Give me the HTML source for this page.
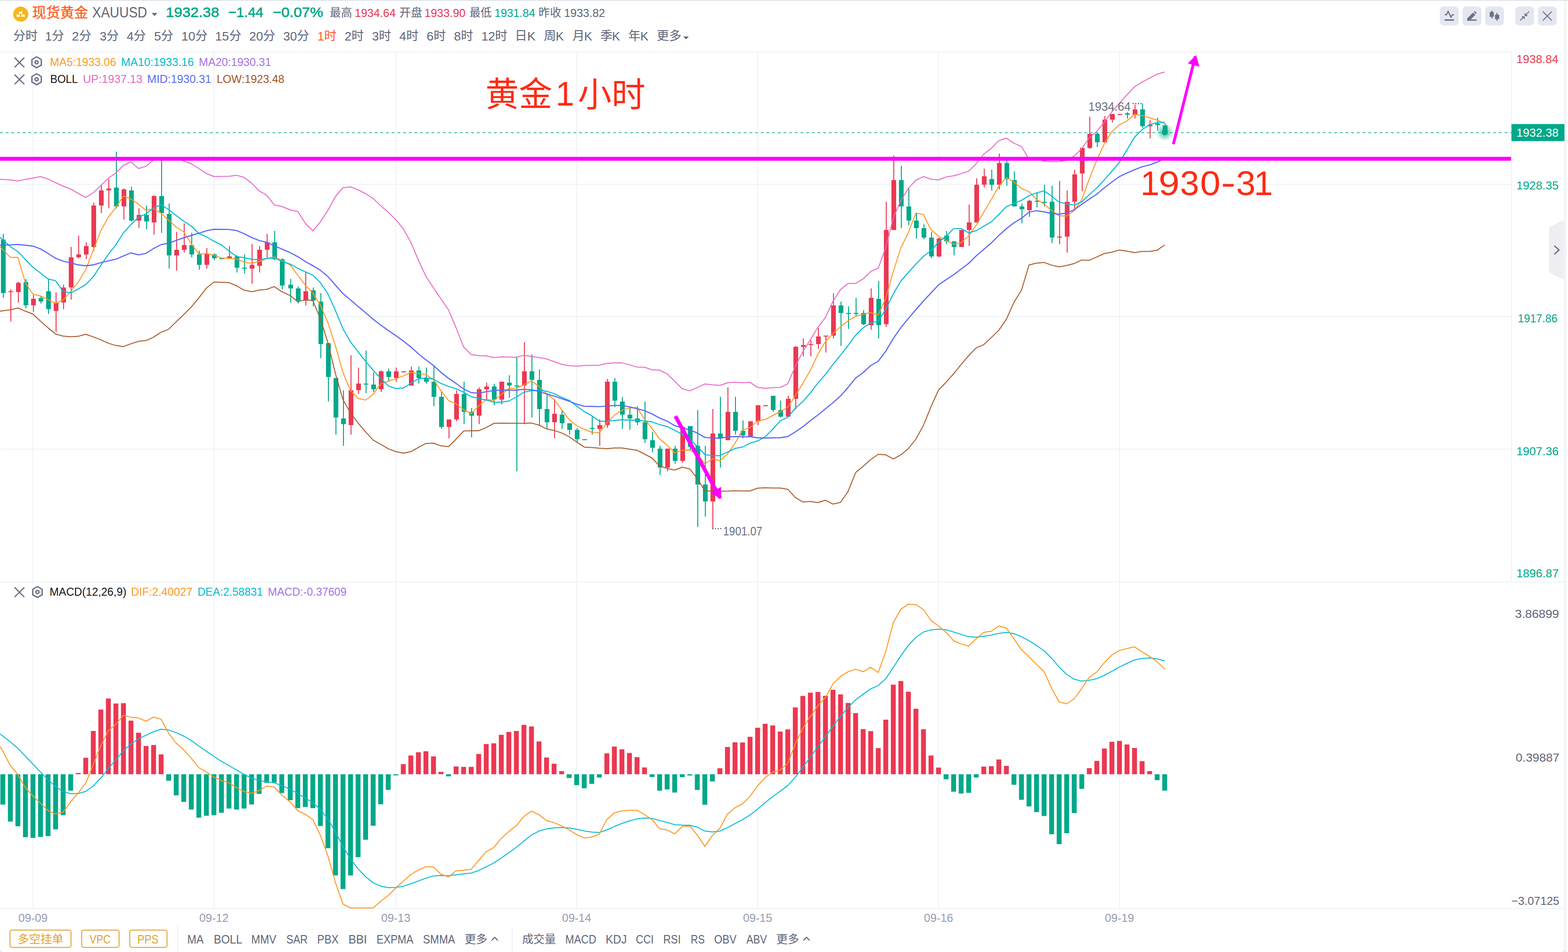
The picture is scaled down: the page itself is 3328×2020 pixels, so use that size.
<!DOCTYPE html>
<html lang="zh"><head><meta charset="utf-8"><title>XAUUSD 1H</title>
<style>html,body{margin:0;padding:0;background:#fff;overflow:hidden}svg{display:block;width:100vw;height:auto}text{font-family:"Liberation Sans","Noto Sans CJK SC",sans-serif;white-space:pre}</style></head>
<body>
<svg width="3328" height="2020" viewBox="0 0 3328 2020" role="img">
<desc>XAUUSD 1H candlestick chart with MA, BOLL and MACD</desc>
<rect x="0" y="0" width="3328" height="2020" fill="#fff"/>
<rect x="0" y="0" width="3328" height="2" fill="#e3e5ee"/>
<rect x="3320" y="2" width="4" height="2018" fill="#eff2f7"/>
<rect x="2" y="390.0" width="3206.0" height="2" fill="#eff3f6"/>
<rect x="2" y="671.0" width="3206.0" height="2" fill="#eff3f6"/>
<rect x="2" y="952.0" width="3206.0" height="2" fill="#eff3f6"/>
<rect x="2" y="109.0" width="3207.0" height="2" fill="#eff3f6"/>
<rect x="0" y="1234.0" width="3320.5" height="2" fill="#eff3f6"/>
<rect x="0" y="1927.0" width="3320.5" height="2" fill="#eff3f6"/>
<rect x="3207.0" y="108.0" width="2" height="1127.0" fill="#eff3f6"/>
<rect x="69.0" y="110.0" width="2" height="1818.0" fill="#eff3f6"/>
<rect x="453.0" y="110.0" width="2" height="1818.0" fill="#eff3f6"/>
<rect x="839.0" y="110.0" width="2" height="1818.0" fill="#eff3f6"/>
<rect x="1223.0" y="110.0" width="2" height="1818.0" fill="#eff3f6"/>
<rect x="1607.0" y="110.0" width="2" height="1818.0" fill="#eff3f6"/>
<rect x="1991.0" y="110.0" width="2" height="1818.0" fill="#eff3f6"/>
<rect x="2375.0" y="110.0" width="2" height="1818.0" fill="#eff3f6"/>
<defs><clipPath id="cm"><rect x="0" y="110" width="3208" height="1125.0"/></clipPath><clipPath id="cd"><rect x="0" y="1235.0" width="3208" height="694.0"/></clipPath>
<radialGradient id="glow"><stop offset="0" stop-color="#00a889" stop-opacity="1"/><stop offset="0.31" stop-color="#00a889" stop-opacity="1"/><stop offset="0.37" stop-color="#00a889" stop-opacity="0.5"/><stop offset="1" stop-color="#00a889" stop-opacity="0"/></radialGradient>
</defs>
<line x1="0" y1="281.5" x2="3208" y2="281.5" stroke="#00a889" stroke-width="1.3" stroke-dasharray="6 6.05"/>
<g clip-path="url(#cm)">
<rect x="6.0" y="496.2" width="2" height="135.8" fill="#00a889"/>
<rect x="2.0" y="508.4" width="10" height="113.4" fill="#00a889"/>
<rect x="22.0" y="614.0" width="2" height="68.1" fill="#eb3852"/>
<rect x="18.0" y="617.9" width="10" height="2.0" fill="#eb3852"/>
<rect x="38.0" y="597.8" width="2" height="44.2" fill="#eb3852"/>
<rect x="34.0" y="600.2" width="10" height="19.5" fill="#eb3852"/>
<rect x="54.0" y="591.9" width="2" height="62.2" fill="#00a889"/>
<rect x="50.0" y="598.4" width="10" height="49.4" fill="#00a889"/>
<rect x="70.0" y="626.2" width="2" height="35.6" fill="#eb3852"/>
<rect x="66.0" y="634.0" width="10" height="13.8" fill="#eb3852"/>
<rect x="86.0" y="628.3" width="2" height="15.6" fill="#00a889"/>
<rect x="82.0" y="632.2" width="10" height="7.5" fill="#00a889"/>
<rect x="102.0" y="591.9" width="2" height="74.1" fill="#00a889"/>
<rect x="98.0" y="617.9" width="10" height="38.0" fill="#00a889"/>
<rect x="118.0" y="620.0" width="2" height="84.3" fill="#eb3852"/>
<rect x="114.0" y="641.8" width="10" height="17.9" fill="#eb3852"/>
<rect x="134.0" y="604.1" width="2" height="52.0" fill="#eb3852"/>
<rect x="130.0" y="610.1" width="10" height="31.7" fill="#eb3852"/>
<rect x="150.0" y="524.0" width="2" height="111.8" fill="#eb3852"/>
<rect x="146.0" y="546.1" width="10" height="63.7" fill="#eb3852"/>
<rect x="166.0" y="500.1" width="2" height="48.1" fill="#eb3852"/>
<rect x="162.0" y="539.8" width="10" height="6.2" fill="#eb3852"/>
<rect x="182.0" y="514.1" width="2" height="35.9" fill="#eb3852"/>
<rect x="178.0" y="522.2" width="10" height="17.7" fill="#eb3852"/>
<rect x="198.0" y="430.1" width="2" height="102.0" fill="#eb3852"/>
<rect x="194.0" y="436.1" width="10" height="87.9" fill="#eb3852"/>
<rect x="214.0" y="393.9" width="2" height="58.3" fill="#eb3852"/>
<rect x="210.0" y="404.1" width="10" height="32.0" fill="#eb3852"/>
<rect x="230.0" y="379.9" width="2" height="62.2" fill="#eb3852"/>
<rect x="226.0" y="399.9" width="10" height="3.9" fill="#eb3852"/>
<rect x="246.0" y="321.9" width="2" height="120.2" fill="#00a889"/>
<rect x="242.0" y="398.1" width="10" height="40.1" fill="#00a889"/>
<rect x="262.0" y="399.9" width="2" height="66.1" fill="#eb3852"/>
<rect x="258.0" y="402.0" width="10" height="35.9" fill="#eb3852"/>
<rect x="278.0" y="396.0" width="2" height="74.1" fill="#00a889"/>
<rect x="274.0" y="404.1" width="10" height="64.0" fill="#00a889"/>
<rect x="294.0" y="442.1" width="2" height="41.9" fill="#eb3852"/>
<rect x="290.0" y="456.1" width="10" height="12.0" fill="#eb3852"/>
<rect x="310.0" y="436.1" width="2" height="49.9" fill="#00a889"/>
<rect x="306.0" y="456.1" width="10" height="13.8" fill="#00a889"/>
<rect x="326.0" y="414.0" width="2" height="84.0" fill="#eb3852"/>
<rect x="322.0" y="416.0" width="10" height="55.9" fill="#eb3852"/>
<rect x="342.0" y="336.2" width="2" height="157.9" fill="#00a889"/>
<rect x="338.0" y="416.0" width="10" height="36.2" fill="#00a889"/>
<rect x="358.0" y="431.9" width="2" height="138.1" fill="#00a889"/>
<rect x="354.0" y="454.0" width="10" height="87.9" fill="#00a889"/>
<rect x="374.0" y="492.0" width="2" height="82.2" fill="#eb3852"/>
<rect x="370.0" y="530.0" width="10" height="12.0" fill="#eb3852"/>
<rect x="390.0" y="474.0" width="2" height="61.9" fill="#eb3852"/>
<rect x="386.0" y="520.1" width="10" height="9.9" fill="#eb3852"/>
<rect x="406.0" y="494.1" width="2" height="52.0" fill="#00a889"/>
<rect x="402.0" y="520.1" width="10" height="19.8" fill="#00a889"/>
<rect x="422.0" y="532.0" width="2" height="40.1" fill="#00a889"/>
<rect x="418.0" y="539.8" width="10" height="22.1" fill="#00a889"/>
<rect x="438.0" y="526.1" width="2" height="44.0" fill="#eb3852"/>
<rect x="434.0" y="538.0" width="10" height="23.9" fill="#eb3852"/>
<rect x="454.0" y="538.0" width="2" height="14.0" fill="#00a889"/>
<rect x="450.0" y="539.8" width="10" height="8.1" fill="#00a889"/>
<rect x="470.0" y="547.9" width="2" height="1.6" fill="#00a889"/>
<rect x="466.0" y="547.9" width="10" height="2.0" fill="#00a889"/>
<rect x="486.0" y="522.2" width="2" height="26.5" fill="#eb3852"/>
<rect x="482.0" y="544.0" width="10" height="4.7" fill="#eb3852"/>
<rect x="502.0" y="541.9" width="2" height="36.2" fill="#00a889"/>
<rect x="498.0" y="544.0" width="10" height="23.9" fill="#00a889"/>
<rect x="518.0" y="539.8" width="2" height="40.3" fill="#00a889"/>
<rect x="514.0" y="567.9" width="10" height="2.1" fill="#00a889"/>
<rect x="534.0" y="518.0" width="2" height="84.0" fill="#eb3852"/>
<rect x="530.0" y="562.0" width="10" height="8.1" fill="#eb3852"/>
<rect x="550.0" y="522.2" width="2" height="55.9" fill="#eb3852"/>
<rect x="546.0" y="530.0" width="10" height="34.1" fill="#eb3852"/>
<rect x="566.0" y="496.2" width="2" height="52.0" fill="#eb3852"/>
<rect x="562.0" y="514.1" width="10" height="15.9" fill="#eb3852"/>
<rect x="582.0" y="489.9" width="2" height="62.2" fill="#00a889"/>
<rect x="578.0" y="514.1" width="10" height="35.9" fill="#00a889"/>
<rect x="598.0" y="547.9" width="2" height="66.1" fill="#00a889"/>
<rect x="594.0" y="550.0" width="10" height="55.9" fill="#00a889"/>
<rect x="616.0" y="591.9" width="2" height="50.2" fill="#00a889"/>
<rect x="612.0" y="604.1" width="10" height="7.8" fill="#00a889"/>
<rect x="632.0" y="608.0" width="2" height="35.9" fill="#00a889"/>
<rect x="628.0" y="611.9" width="10" height="26.0" fill="#00a889"/>
<rect x="648.0" y="576.2" width="2" height="71.8" fill="#eb3852"/>
<rect x="644.0" y="618.1" width="10" height="19.8" fill="#eb3852"/>
<rect x="664.0" y="610.0" width="2" height="40.1" fill="#00a889"/>
<rect x="660.0" y="616.0" width="10" height="21.8" fill="#00a889"/>
<rect x="680.0" y="622.0" width="2" height="138.1" fill="#00a889"/>
<rect x="676.0" y="639.9" width="10" height="90.0" fill="#00a889"/>
<rect x="696.0" y="728.1" width="2" height="123.8" fill="#00a889"/>
<rect x="692.0" y="728.1" width="10" height="71.8" fill="#00a889"/>
<rect x="712.0" y="802.1" width="2" height="119.9" fill="#00a889"/>
<rect x="708.0" y="802.1" width="10" height="83.7" fill="#00a889"/>
<rect x="728.0" y="828.1" width="2" height="117.8" fill="#00a889"/>
<rect x="724.0" y="887.9" width="10" height="12.0" fill="#00a889"/>
<rect x="744.0" y="754.0" width="2" height="168.0" fill="#eb3852"/>
<rect x="740.0" y="828.1" width="10" height="73.9" fill="#eb3852"/>
<rect x="760.0" y="780.0" width="2" height="55.9" fill="#eb3852"/>
<rect x="756.0" y="813.8" width="10" height="14.0" fill="#eb3852"/>
<rect x="776.0" y="744.0" width="2" height="90.0" fill="#00a889"/>
<rect x="772.0" y="813.9" width="10" height="2.1" fill="#00a889"/>
<rect x="792.0" y="790.0" width="2" height="41.9" fill="#00a889"/>
<rect x="788.0" y="816.0" width="10" height="9.9" fill="#00a889"/>
<rect x="808.0" y="786.1" width="2" height="45.8" fill="#eb3852"/>
<rect x="804.0" y="787.9" width="10" height="38.0" fill="#eb3852"/>
<rect x="824.0" y="782.0" width="2" height="26.0" fill="#00a889"/>
<rect x="820.0" y="787.9" width="10" height="12.0" fill="#00a889"/>
<rect x="840.0" y="779.9" width="2" height="30.2" fill="#eb3852"/>
<rect x="836.0" y="787.9" width="10" height="14.0" fill="#eb3852"/>
<rect x="856.0" y="787.9" width="2" height="2.1" fill="#eb3852"/>
<rect x="852.0" y="787.9" width="10" height="2.1" fill="#eb3852"/>
<rect x="872.0" y="778.0" width="2" height="40.1" fill="#eb3852"/>
<rect x="868.0" y="786.1" width="10" height="32.0" fill="#eb3852"/>
<rect x="888.0" y="778.0" width="2" height="35.9" fill="#00a889"/>
<rect x="884.0" y="786.1" width="10" height="15.9" fill="#00a889"/>
<rect x="904.0" y="779.9" width="2" height="34.1" fill="#00a889"/>
<rect x="900.0" y="802.0" width="10" height="8.1" fill="#00a889"/>
<rect x="920.0" y="778.0" width="2" height="84.0" fill="#00a889"/>
<rect x="916.0" y="810.0" width="10" height="32.0" fill="#00a889"/>
<rect x="936.0" y="829.9" width="2" height="80.1" fill="#00a889"/>
<rect x="932.0" y="841.9" width="10" height="64.0" fill="#00a889"/>
<rect x="952.0" y="890.0" width="2" height="40.1" fill="#eb3852"/>
<rect x="948.0" y="890.0" width="10" height="15.9" fill="#eb3852"/>
<rect x="968.0" y="828.1" width="2" height="65.8" fill="#eb3852"/>
<rect x="964.0" y="835.9" width="10" height="54.1" fill="#eb3852"/>
<rect x="984.0" y="809.9" width="2" height="90.0" fill="#00a889"/>
<rect x="980.0" y="835.9" width="10" height="38.0" fill="#00a889"/>
<rect x="1000.0" y="865.8" width="2" height="62.2" fill="#00a889"/>
<rect x="996.0" y="873.9" width="10" height="8.1" fill="#00a889"/>
<rect x="1016.0" y="821.9" width="2" height="78.0" fill="#eb3852"/>
<rect x="1012.0" y="826.0" width="10" height="55.9" fill="#eb3852"/>
<rect x="1032.0" y="812.0" width="2" height="36.9" fill="#eb3852"/>
<rect x="1028.0" y="820.1" width="10" height="6.0" fill="#eb3852"/>
<rect x="1048.0" y="814.1" width="2" height="45.8" fill="#00a889"/>
<rect x="1044.0" y="820.1" width="10" height="27.8" fill="#00a889"/>
<rect x="1064.0" y="809.9" width="2" height="48.1" fill="#eb3852"/>
<rect x="1060.0" y="809.9" width="10" height="38.0" fill="#eb3852"/>
<rect x="1080.0" y="796.1" width="2" height="47.9" fill="#00a889"/>
<rect x="1076.0" y="812.0" width="10" height="6.0" fill="#00a889"/>
<rect x="1096.0" y="757.9" width="2" height="242.1" fill="#00a889"/>
<rect x="1092.0" y="818.0" width="10" height="2.1" fill="#00a889"/>
<rect x="1112.0" y="726.2" width="2" height="173.7" fill="#eb3852"/>
<rect x="1108.0" y="787.8" width="10" height="30.2" fill="#eb3852"/>
<rect x="1128.0" y="752.2" width="2" height="133.7" fill="#00a889"/>
<rect x="1124.0" y="787.8" width="10" height="18.2" fill="#00a889"/>
<rect x="1144.0" y="783.9" width="2" height="118.1" fill="#00a889"/>
<rect x="1140.0" y="806.0" width="10" height="61.9" fill="#00a889"/>
<rect x="1160.0" y="833.8" width="2" height="76.2" fill="#00a889"/>
<rect x="1156.0" y="867.9" width="10" height="28.1" fill="#00a889"/>
<rect x="1176.0" y="846.1" width="2" height="84.0" fill="#eb3852"/>
<rect x="1172.0" y="878.0" width="10" height="17.9" fill="#eb3852"/>
<rect x="1192.0" y="870.0" width="2" height="40.1" fill="#00a889"/>
<rect x="1188.0" y="879.9" width="10" height="18.2" fill="#00a889"/>
<rect x="1208.0" y="898.1" width="2" height="23.9" fill="#00a889"/>
<rect x="1204.0" y="898.1" width="10" height="14.0" fill="#00a889"/>
<rect x="1224.0" y="908.0" width="2" height="29.9" fill="#00a889"/>
<rect x="1220.0" y="912.1" width="10" height="19.8" fill="#00a889"/>
<rect x="1240.0" y="931.9" width="2" height="2.1" fill="#00a889"/>
<rect x="1236.0" y="931.9" width="10" height="2.1" fill="#00a889"/>
<rect x="1256.0" y="884.0" width="2" height="38.0" fill="#00a889"/>
<rect x="1252.0" y="908.0" width="10" height="2.1" fill="#00a889"/>
<rect x="1272.0" y="890.0" width="2" height="55.9" fill="#eb3852"/>
<rect x="1268.0" y="902.0" width="10" height="8.1" fill="#eb3852"/>
<rect x="1288.0" y="803.9" width="2" height="104.0" fill="#eb3852"/>
<rect x="1284.0" y="809.9" width="10" height="92.1" fill="#eb3852"/>
<rect x="1304.0" y="802.1" width="2" height="61.9" fill="#00a889"/>
<rect x="1300.0" y="809.9" width="10" height="40.1" fill="#00a889"/>
<rect x="1320.0" y="841.9" width="2" height="68.1" fill="#00a889"/>
<rect x="1316.0" y="852.0" width="10" height="27.8" fill="#00a889"/>
<rect x="1336.0" y="864.0" width="2" height="48.1" fill="#00a889"/>
<rect x="1332.0" y="879.9" width="10" height="8.1" fill="#00a889"/>
<rect x="1352.0" y="861.9" width="2" height="40.1" fill="#00a889"/>
<rect x="1348.0" y="887.9" width="10" height="8.1" fill="#00a889"/>
<rect x="1368.0" y="852.0" width="2" height="87.9" fill="#00a889"/>
<rect x="1364.0" y="896.0" width="10" height="35.9" fill="#00a889"/>
<rect x="1384.0" y="916.0" width="2" height="44.0" fill="#00a889"/>
<rect x="1380.0" y="934.0" width="10" height="16.1" fill="#00a889"/>
<rect x="1400.0" y="945.9" width="2" height="62.2" fill="#00a889"/>
<rect x="1396.0" y="951.9" width="10" height="40.1" fill="#00a889"/>
<rect x="1416.0" y="951.9" width="2" height="48.1" fill="#eb3852"/>
<rect x="1412.0" y="951.9" width="10" height="40.1" fill="#eb3852"/>
<rect x="1432.0" y="945.9" width="2" height="38.2" fill="#00a889"/>
<rect x="1428.0" y="951.9" width="10" height="26.0" fill="#00a889"/>
<rect x="1448.0" y="905.9" width="2" height="76.2" fill="#eb3852"/>
<rect x="1444.0" y="905.9" width="10" height="72.0" fill="#eb3852"/>
<rect x="1464.0" y="904.1" width="2" height="52.0" fill="#00a889"/>
<rect x="1460.0" y="904.1" width="10" height="44.0" fill="#00a889"/>
<rect x="1480.0" y="870.0" width="2" height="248.1" fill="#00a889"/>
<rect x="1476.0" y="945.9" width="10" height="82.2" fill="#00a889"/>
<rect x="1496.0" y="945.9" width="2" height="150.1" fill="#00a889"/>
<rect x="1492.0" y="1028.1" width="10" height="35.9" fill="#00a889"/>
<rect x="1512.0" y="867.9" width="2" height="254.1" fill="#eb3852"/>
<rect x="1508.0" y="919.9" width="10" height="144.1" fill="#eb3852"/>
<rect x="1528.0" y="841.9" width="2" height="150.1" fill="#00a889"/>
<rect x="1524.0" y="919.9" width="10" height="10.1" fill="#00a889"/>
<rect x="1544.0" y="821.9" width="2" height="112.1" fill="#eb3852"/>
<rect x="1540.0" y="873.9" width="10" height="60.1" fill="#eb3852"/>
<rect x="1560.0" y="841.9" width="2" height="80.1" fill="#00a889"/>
<rect x="1556.0" y="873.9" width="10" height="40.1" fill="#00a889"/>
<rect x="1576.0" y="892.1" width="2" height="38.0" fill="#00a889"/>
<rect x="1572.0" y="913.9" width="10" height="10.1" fill="#00a889"/>
<rect x="1592.0" y="893.9" width="2" height="32.0" fill="#eb3852"/>
<rect x="1588.0" y="893.9" width="10" height="32.0" fill="#eb3852"/>
<rect x="1608.0" y="859.8" width="2" height="42.1" fill="#eb3852"/>
<rect x="1604.0" y="859.8" width="10" height="34.1" fill="#eb3852"/>
<rect x="1624.0" y="859.8" width="2" height="2.1" fill="#eb3852"/>
<rect x="1620.0" y="859.8" width="10" height="2.1" fill="#eb3852"/>
<rect x="1640.0" y="839.8" width="2" height="34.1" fill="#00a889"/>
<rect x="1636.0" y="839.8" width="10" height="30.2" fill="#00a889"/>
<rect x="1656.0" y="850.0" width="2" height="35.9" fill="#00a889"/>
<rect x="1652.0" y="870.0" width="10" height="14.0" fill="#00a889"/>
<rect x="1672.0" y="839.8" width="2" height="44.2" fill="#eb3852"/>
<rect x="1668.0" y="846.1" width="10" height="38.0" fill="#eb3852"/>
<rect x="1688.0" y="733.9" width="2" height="134.2" fill="#eb3852"/>
<rect x="1684.0" y="736.0" width="10" height="110.0" fill="#eb3852"/>
<rect x="1704.0" y="718.1" width="2" height="38.0" fill="#eb3852"/>
<rect x="1700.0" y="732.1" width="10" height="3.9" fill="#eb3852"/>
<rect x="1720.0" y="722.0" width="2" height="34.1" fill="#eb3852"/>
<rect x="1716.0" y="730.0" width="10" height="2.1" fill="#eb3852"/>
<rect x="1736.0" y="696.0" width="2" height="44.0" fill="#eb3852"/>
<rect x="1732.0" y="713.9" width="10" height="16.1" fill="#eb3852"/>
<rect x="1752.0" y="712.1" width="2" height="35.9" fill="#eb3852"/>
<rect x="1748.0" y="712.1" width="10" height="2.0" fill="#eb3852"/>
<rect x="1768.0" y="621.8" width="2" height="96.2" fill="#eb3852"/>
<rect x="1764.0" y="648.1" width="10" height="64.0" fill="#eb3852"/>
<rect x="1784.0" y="640.1" width="2" height="93.9" fill="#00a889"/>
<rect x="1780.0" y="648.1" width="10" height="15.9" fill="#00a889"/>
<rect x="1800.0" y="649.9" width="2" height="48.1" fill="#00a889"/>
<rect x="1796.0" y="664.0" width="10" height="2.1" fill="#00a889"/>
<rect x="1816.0" y="632.0" width="2" height="38.0" fill="#00a889"/>
<rect x="1812.0" y="664.0" width="10" height="2.1" fill="#00a889"/>
<rect x="1832.0" y="658.0" width="2" height="32.0" fill="#00a889"/>
<rect x="1828.0" y="664.0" width="10" height="23.9" fill="#00a889"/>
<rect x="1848.0" y="612.0" width="2" height="87.9" fill="#eb3852"/>
<rect x="1844.0" y="632.0" width="10" height="58.0" fill="#eb3852"/>
<rect x="1864.0" y="596.1" width="2" height="122.0" fill="#00a889"/>
<rect x="1860.0" y="634.1" width="10" height="55.9" fill="#00a889"/>
<rect x="1880.0" y="428.1" width="2" height="265.8" fill="#eb3852"/>
<rect x="1876.0" y="487.9" width="10" height="200.0" fill="#eb3852"/>
<rect x="1896.0" y="330.0" width="2" height="157.9" fill="#eb3852"/>
<rect x="1892.0" y="382.1" width="10" height="105.9" fill="#eb3852"/>
<rect x="1912.0" y="351.9" width="2" height="132.1" fill="#00a889"/>
<rect x="1908.0" y="382.1" width="10" height="55.9" fill="#00a889"/>
<rect x="1928.0" y="400.0" width="2" height="78.0" fill="#00a889"/>
<rect x="1924.0" y="438.0" width="10" height="29.9" fill="#00a889"/>
<rect x="1944.0" y="452.0" width="2" height="54.1" fill="#00a889"/>
<rect x="1940.0" y="467.9" width="10" height="16.1" fill="#00a889"/>
<rect x="1960.0" y="475.9" width="2" height="32.0" fill="#00a889"/>
<rect x="1956.0" y="484.0" width="10" height="20.0" fill="#00a889"/>
<rect x="1976.0" y="492.1" width="2" height="55.9" fill="#00a889"/>
<rect x="1972.0" y="504.0" width="10" height="40.1" fill="#00a889"/>
<rect x="1992.0" y="504.0" width="2" height="41.9" fill="#eb3852"/>
<rect x="1988.0" y="506.1" width="10" height="38.0" fill="#eb3852"/>
<rect x="2008.0" y="490.0" width="2" height="28.1" fill="#00a889"/>
<rect x="2004.0" y="499.9" width="10" height="12.2" fill="#00a889"/>
<rect x="2024.0" y="512.1" width="2" height="29.9" fill="#00a889"/>
<rect x="2020.0" y="512.1" width="10" height="12.0" fill="#00a889"/>
<rect x="2040.0" y="487.9" width="2" height="36.2" fill="#eb3852"/>
<rect x="2036.0" y="487.9" width="10" height="36.2" fill="#eb3852"/>
<rect x="2056.0" y="434.1" width="2" height="87.9" fill="#eb3852"/>
<rect x="2052.0" y="472.0" width="10" height="15.9" fill="#eb3852"/>
<rect x="2072.0" y="378.2" width="2" height="93.9" fill="#eb3852"/>
<rect x="2068.0" y="391.9" width="10" height="80.1" fill="#eb3852"/>
<rect x="2088.0" y="357.9" width="2" height="40.1" fill="#eb3852"/>
<rect x="2084.0" y="374.0" width="10" height="17.9" fill="#eb3852"/>
<rect x="2104.0" y="359.9" width="2" height="44.2" fill="#00a889"/>
<rect x="2100.0" y="380.0" width="10" height="12.0" fill="#00a889"/>
<rect x="2120.0" y="325.9" width="2" height="76.2" fill="#eb3852"/>
<rect x="2116.0" y="345.9" width="10" height="46.0" fill="#eb3852"/>
<rect x="2136.0" y="340.4" width="2" height="53.6" fill="#00a889"/>
<rect x="2132.0" y="345.9" width="10" height="34.1" fill="#00a889"/>
<rect x="2152.0" y="363.8" width="2" height="74.1" fill="#00a889"/>
<rect x="2148.0" y="382.1" width="10" height="55.9" fill="#00a889"/>
<rect x="2168.0" y="432.0" width="2" height="41.9" fill="#00a889"/>
<rect x="2164.0" y="438.0" width="10" height="6.0" fill="#00a889"/>
<rect x="2184.0" y="423.9" width="2" height="36.2" fill="#eb3852"/>
<rect x="2180.0" y="426.0" width="10" height="20.0" fill="#eb3852"/>
<rect x="2200.0" y="408.1" width="2" height="32.0" fill="#00a889"/>
<rect x="2196.0" y="426.0" width="10" height="2.1" fill="#00a889"/>
<rect x="2216.0" y="391.9" width="2" height="46.0" fill="#00a889"/>
<rect x="2212.0" y="428.1" width="10" height="2.1" fill="#00a889"/>
<rect x="2232.0" y="394.0" width="2" height="122.0" fill="#00a889"/>
<rect x="2228.0" y="428.1" width="10" height="75.9" fill="#00a889"/>
<rect x="2248.0" y="383.9" width="2" height="134.2" fill="#eb3852"/>
<rect x="2244.0" y="502.0" width="10" height="2.1" fill="#eb3852"/>
<rect x="2264.0" y="404.2" width="2" height="131.9" fill="#eb3852"/>
<rect x="2260.0" y="428.1" width="10" height="73.9" fill="#eb3852"/>
<rect x="2280.0" y="359.9" width="2" height="84.0" fill="#eb3852"/>
<rect x="2276.0" y="370.1" width="10" height="58.0" fill="#eb3852"/>
<rect x="2296.0" y="312.1" width="2" height="93.9" fill="#eb3852"/>
<rect x="2292.0" y="313.9" width="10" height="54.1" fill="#eb3852"/>
<rect x="2312.0" y="247.9" width="2" height="68.1" fill="#eb3852"/>
<rect x="2308.0" y="284.0" width="10" height="29.9" fill="#eb3852"/>
<rect x="2328.0" y="281.9" width="2" height="30.2" fill="#00a889"/>
<rect x="2324.0" y="284.0" width="10" height="17.9" fill="#00a889"/>
<rect x="2344.0" y="246.0" width="2" height="55.9" fill="#eb3852"/>
<rect x="2340.0" y="253.8" width="10" height="48.1" fill="#eb3852"/>
<rect x="2360.0" y="241.9" width="2" height="17.9" fill="#eb3852"/>
<rect x="2356.0" y="241.9" width="10" height="12.0" fill="#eb3852"/>
<rect x="2376.0" y="241.9" width="2" height="1.6" fill="#eb3852"/>
<rect x="2372.0" y="241.9" width="10" height="2.0" fill="#eb3852"/>
<rect x="2392.0" y="238.0" width="2" height="13.6" fill="#00a889"/>
<rect x="2388.0" y="240.4" width="10" height="3.0" fill="#00a889"/>
<rect x="2408.0" y="222.2" width="2" height="29.4" fill="#eb3852"/>
<rect x="2404.0" y="232.2" width="10" height="11.2" fill="#eb3852"/>
<rect x="2424.0" y="220.0" width="2" height="51.5" fill="#00a889"/>
<rect x="2420.0" y="232.2" width="10" height="35.6" fill="#00a889"/>
<rect x="2440.0" y="254.4" width="2" height="39.3" fill="#eb3852"/>
<rect x="2436.0" y="264.5" width="10" height="3.3" fill="#eb3852"/>
<rect x="2456.0" y="249.7" width="2" height="27.4" fill="#00a889"/>
<rect x="2452.0" y="262.1" width="10" height="3.3" fill="#00a889"/>
<rect x="2472.0" y="262.0" width="2" height="19.5" fill="#00a889"/>
<rect x="2468.0" y="266.1" width="10" height="15.4" fill="#00a889"/>
<path d="M0.0 523.8 L6.0 529.4 L22.0 546.1 L38.0 546.1 L54.0 600.2 L70.0 624.3 L86.0 627.9 L102.0 635.5 L118.0 643.8 L134.0 636.3 L150.0 618.7 L166.0 598.7 L182.0 572.0 L198.0 530.8 L214.0 489.7 L230.0 460.4 L246.0 440.1 L262.0 416.0 L278.0 422.4 L294.0 432.9 L310.0 446.8 L326.0 442.4 L342.0 452.5 L358.0 467.2 L374.0 482.0 L390.0 492.0 L406.0 516.8 L422.0 538.8 L438.0 538.0 L454.0 541.6 L470.0 547.4 L486.0 548.3 L502.0 549.5 L518.0 555.9 L534.0 558.7 L550.0 554.8 L566.0 548.8 L582.0 545.2 L598.0 552.4 L616.0 562.4 L632.0 584.0 L648.0 604.8 L664.0 622.3 L680.0 647.1 L696.0 684.7 L712.0 734.3 L728.0 790.7 L744.0 828.7 L760.0 845.5 L776.0 848.7 L792.0 836.7 L808.0 814.4 L824.0 808.7 L840.0 803.5 L856.0 797.9 L872.0 790.0 L888.0 792.8 L904.0 794.8 L920.0 805.6 L936.0 829.2 L952.0 850.0 L968.0 856.8 L984.0 869.5 L1000.0 877.5 L1016.0 861.6 L1032.0 847.6 L1048.0 850.0 L1064.0 837.2 L1080.0 824.4 L1096.0 823.2 L1112.0 816.7 L1128.0 808.3 L1144.0 819.9 L1160.0 835.6 L1176.0 847.2 L1192.0 869.2 L1208.0 890.4 L1224.0 903.2 L1240.0 910.8 L1256.0 917.2 L1272.0 918.0 L1288.0 897.6 L1304.0 881.2 L1320.0 870.4 L1336.0 865.9 L1352.0 864.7 L1368.0 889.1 L1384.0 909.2 L1400.0 931.6 L1416.0 944.4 L1432.0 960.8 L1448.0 955.6 L1464.0 955.1 L1480.0 962.4 L1496.0 984.8 L1512.0 973.2 L1528.0 978.0 L1544.0 963.2 L1560.0 940.4 L1576.0 912.4 L1592.0 907.2 L1608.0 893.1 L1624.0 890.3 L1640.0 881.5 L1656.0 873.5 L1672.0 864.0 L1688.0 839.2 L1704.0 813.6 L1720.0 785.7 L1736.0 751.6 L1752.0 724.8 L1768.0 707.3 L1784.0 693.6 L1800.0 680.8 L1816.0 671.3 L1832.0 666.4 L1848.0 663.2 L1864.0 668.4 L1880.0 632.8 L1896.0 576.0 L1912.0 526.0 L1928.0 493.2 L1944.0 452.0 L1960.0 455.2 L1976.0 487.6 L1992.0 501.2 L2008.0 510.1 L2024.0 518.1 L2040.0 514.9 L2056.0 500.4 L2072.0 477.6 L2088.0 450.0 L2104.0 423.6 L2120.0 395.2 L2136.0 376.7 L2152.0 386.0 L2168.0 399.9 L2184.0 406.8 L2200.0 423.2 L2216.0 433.2 L2232.0 446.4 L2248.0 458.0 L2264.0 458.5 L2280.0 446.9 L2296.0 423.6 L2312.0 379.6 L2328.0 339.6 L2344.0 304.8 L2360.0 279.1 L2376.0 264.7 L2392.0 256.6 L2408.0 242.6 L2424.0 245.4 L2440.0 250.0 L2456.0 254.7 L2472.0 262.3" fill="none" stroke="#ff961e" stroke-width="2.0" stroke-linejoin="round"/>
<path d="M0.0 503.6 L6.0 508.6 L22.0 523.5 L38.0 533.9 L54.0 550.8 L70.0 567.2 L86.0 579.4 L102.0 591.9 L118.0 595.8 L134.0 618.4 L150.0 621.5 L166.0 613.3 L182.0 603.7 L198.0 587.3 L214.0 563.0 L230.0 539.6 L246.0 519.4 L262.0 494.0 L278.0 476.6 L294.0 461.3 L310.0 453.6 L326.0 441.3 L342.0 434.3 L358.0 444.8 L374.0 457.4 L390.0 469.4 L406.0 479.6 L422.0 495.6 L438.0 502.6 L454.0 511.8 L470.0 519.7 L486.0 532.5 L502.0 544.1 L518.0 546.9 L534.0 550.1 L550.0 551.1 L566.0 548.5 L582.0 547.3 L598.0 554.1 L616.0 560.5 L632.0 569.4 L648.0 576.8 L664.0 583.8 L680.0 599.8 L696.0 623.6 L712.0 659.1 L728.0 697.7 L744.0 725.5 L760.0 746.3 L776.0 766.7 L792.0 785.5 L808.0 802.5 L824.0 818.7 L840.0 824.5 L856.0 823.3 L872.0 813.4 L888.0 803.6 L904.0 801.8 L920.0 804.6 L936.0 813.6 L952.0 820.0 L968.0 824.8 L984.0 832.2 L1000.0 841.6 L1016.0 845.4 L1032.0 848.8 L1048.0 853.4 L1064.0 853.4 L1080.0 850.9 L1096.0 842.4 L1112.0 832.1 L1128.0 829.2 L1144.0 828.6 L1160.0 830.0 L1176.0 835.2 L1192.0 843.0 L1208.0 849.4 L1224.0 861.6 L1240.0 873.2 L1256.0 882.2 L1272.0 893.6 L1288.0 894.0 L1304.0 892.2 L1320.0 890.6 L1336.0 891.6 L1352.0 891.4 L1368.0 893.3 L1384.0 895.2 L1400.0 901.0 L1416.0 905.1 L1432.0 912.7 L1448.0 922.3 L1464.0 932.1 L1480.0 947.0 L1496.0 964.6 L1512.0 967.0 L1528.0 966.8 L1544.0 959.2 L1560.0 951.4 L1576.0 948.6 L1592.0 940.2 L1608.0 935.6 L1624.0 926.8 L1640.0 910.9 L1656.0 893.0 L1672.0 885.6 L1688.0 866.2 L1704.0 852.0 L1720.0 833.6 L1736.0 812.6 L1752.0 794.4 L1768.0 773.2 L1784.0 753.6 L1800.0 733.2 L1816.0 711.4 L1832.0 695.6 L1848.0 685.2 L1864.0 681.0 L1880.0 656.8 L1896.0 623.6 L1912.0 596.2 L1928.0 578.2 L1944.0 560.2 L1960.0 544.0 L1976.0 531.8 L1992.0 513.6 L2008.0 501.6 L2024.0 485.0 L2040.0 485.0 L2056.0 494.0 L2072.0 489.4 L2088.0 480.0 L2104.0 470.8 L2120.0 455.0 L2136.0 438.6 L2152.0 431.8 L2168.0 425.0 L2184.0 415.2 L2200.0 409.2 L2216.0 405.0 L2232.0 416.2 L2248.0 429.0 L2264.0 432.6 L2280.0 435.0 L2296.0 428.4 L2312.0 413.0 L2328.0 398.8 L2344.0 381.6 L2360.0 363.0 L2376.0 344.2 L2392.0 318.1 L2408.0 291.1 L2424.0 275.1 L2440.0 264.5 L2456.0 259.7 L2472.0 259.4" fill="none" stroke="#00bcd8" stroke-width="2.2" stroke-linejoin="round"/>
<path d="M0.0 380.3 L6.0 380.7 L22.0 381.7 L38.0 384.1 L54.0 380.4 L70.0 377.8 L86.0 374.7 L102.0 379.9 L118.0 387.7 L134.0 395.0 L150.0 401.2 L166.0 410.3 L182.0 418.9 L198.0 409.0 L214.0 393.4 L230.0 378.3 L246.0 366.9 L262.0 351.0 L278.0 343.5 L294.0 357.5 L310.0 352.6 L326.0 339.3 L342.0 335.5 L358.0 335.5 L374.0 337.8 L390.0 341.5 L406.0 347.7 L422.0 357.5 L438.0 368.0 L454.0 374.5 L470.0 374.3 L486.0 374.1 L502.0 371.9 L518.0 376.2 L534.0 388.6 L550.0 405.0 L566.0 414.2 L582.0 434.8 L598.0 438.0 L616.0 445.2 L632.0 448.7 L648.0 473.7 L664.0 489.8 L680.0 470.6 L696.0 446.4 L712.0 417.0 L728.0 398.2 L744.0 396.5 L760.0 402.9 L776.0 411.0 L792.0 421.1 L808.0 436.6 L824.0 450.4 L840.0 466.1 L856.0 485.4 L872.0 514.2 L888.0 552.0 L904.0 586.3 L920.0 610.7 L936.0 634.2 L952.0 657.7 L968.0 695.5 L984.0 736.3 L1000.0 752.2 L1016.0 754.8 L1032.0 755.0 L1048.0 758.7 L1064.0 757.3 L1080.0 757.6 L1096.0 758.0 L1112.0 753.9 L1128.0 756.3 L1144.0 758.7 L1160.0 761.5 L1176.0 767.2 L1192.0 773.1 L1208.0 776.1 L1224.0 777.0 L1240.0 775.4 L1256.0 775.2 L1272.0 774.9 L1288.0 771.3 L1304.0 770.1 L1320.0 770.1 L1336.0 773.9 L1352.0 778.9 L1368.0 779.3 L1384.0 784.7 L1400.0 785.5 L1416.0 793.2 L1432.0 808.8 L1448.0 825.0 L1464.0 829.4 L1480.0 822.3 L1496.0 814.7 L1512.0 816.6 L1528.0 817.7 L1544.0 812.2 L1560.0 811.1 L1576.0 812.1 L1592.0 811.2 L1608.0 822.1 L1624.0 824.0 L1640.0 822.5 L1656.0 822.0 L1672.0 814.3 L1688.0 777.2 L1704.0 745.9 L1720.0 720.8 L1736.0 694.6 L1752.0 673.3 L1768.0 639.2 L1784.0 614.4 L1800.0 601.5 L1816.0 601.6 L1832.0 591.7 L1848.0 576.2 L1864.0 569.0 L1880.0 525.3 L1896.0 462.3 L1912.0 425.4 L1928.0 399.6 L1944.0 382.3 L1960.0 374.7 L1976.0 380.3 L1992.0 381.7 L2008.0 375.6 L2024.0 373.0 L2040.0 368.4 L2056.0 363.1 L2072.0 347.5 L2088.0 327.0 L2104.0 314.9 L2120.0 298.4 L2136.0 293.0 L2152.0 303.8 L2168.0 310.7 L2184.0 338.0 L2200.0 336.0 L2216.0 342.1 L2232.0 343.0 L2248.0 342.8 L2264.0 340.3 L2280.0 330.9 L2296.0 315.3 L2312.0 292.4 L2328.0 278.7 L2344.0 258.8 L2360.0 237.1 L2376.0 218.6 L2392.0 201.3 L2408.0 184.2 L2424.0 174.2 L2440.0 165.9 L2456.0 157.2 L2472.0 152.7" fill="none" stroke="#e868c8" stroke-width="2.0" stroke-linejoin="round"/>
<path d="M0.0 520.3 L6.0 520.1 L22.0 519.6 L38.0 518.8 L54.0 520.3 L70.0 522.2 L86.0 528.1 L102.0 537.8 L118.0 548.2 L134.0 554.2 L150.0 557.8 L166.0 562.0 L182.0 564.0 L198.0 562.0 L214.0 557.3 L230.0 553.4 L246.0 550.0 L262.0 543.2 L278.0 536.5 L294.0 540.9 L310.0 537.6 L326.0 527.3 L342.0 519.0 L358.0 516.1 L374.0 510.2 L390.0 504.5 L406.0 499.5 L422.0 494.8 L438.0 489.6 L454.0 486.5 L470.0 486.7 L486.0 486.9 L502.0 489.2 L518.0 495.9 L534.0 503.8 L550.0 510.3 L566.0 514.1 L582.0 521.5 L598.0 528.4 L616.0 536.2 L632.0 544.6 L648.0 554.7 L664.0 563.9 L680.0 573.3 L696.0 586.8 L712.0 605.1 L728.0 623.1 L744.0 636.4 L760.0 650.2 L776.0 663.6 L792.0 677.5 L808.0 689.6 L824.0 701.2 L840.0 712.1 L856.0 723.4 L872.0 736.2 L888.0 750.6 L904.0 763.6 L920.0 775.5 L936.0 790.2 L952.0 802.8 L968.0 813.6 L984.0 825.4 L1000.0 833.0 L1016.0 834.4 L1032.0 831.1 L1048.0 828.5 L1064.0 827.6 L1080.0 827.8 L1096.0 828.0 L1112.0 826.1 L1128.0 827.0 L1144.0 830.4 L1160.0 835.8 L1176.0 840.3 L1192.0 845.9 L1208.0 851.4 L1224.0 857.5 L1240.0 862.1 L1256.0 862.3 L1272.0 862.9 L1288.0 861.6 L1304.0 860.4 L1320.0 860.3 L1336.0 863.4 L1352.0 867.2 L1368.0 871.4 L1384.0 878.4 L1400.0 887.1 L1416.0 893.7 L1432.0 903.2 L1448.0 908.2 L1464.0 912.2 L1480.0 918.8 L1496.0 928.1 L1512.0 929.2 L1528.0 930.1 L1544.0 927.2 L1560.0 926.2 L1576.0 926.9 L1592.0 926.5 L1608.0 929.0 L1624.0 929.5 L1640.0 929.0 L1656.0 928.8 L1672.0 926.3 L1688.0 916.5 L1704.0 905.6 L1720.0 892.5 L1736.0 880.6 L1752.0 867.3 L1768.0 854.4 L1784.0 840.2 L1800.0 822.1 L1816.0 802.2 L1832.0 790.6 L1848.0 775.7 L1864.0 766.5 L1880.0 745.2 L1896.0 718.1 L1912.0 695.3 L1928.0 675.7 L1944.0 656.9 L1960.0 638.6 L1976.0 621.6 L1992.0 604.6 L2008.0 593.4 L2024.0 583.0 L2040.0 570.9 L2056.0 558.8 L2072.0 542.8 L2088.0 529.1 L2104.0 515.5 L2120.0 499.5 L2136.0 485.2 L2152.0 472.7 L2168.0 463.3 L2184.0 450.1 L2200.0 447.1 L2216.0 449.5 L2232.0 452.8 L2248.0 454.5 L2264.0 451.7 L2280.0 445.0 L2296.0 433.5 L2312.0 422.4 L2328.0 411.9 L2344.0 398.4 L2360.0 386.1 L2376.0 374.6 L2392.0 367.2 L2408.0 360.1 L2424.0 353.9 L2440.0 349.8 L2456.0 344.1 L2472.0 336.2" fill="none" stroke="#5a68f8" stroke-width="2.4" stroke-linejoin="round"/>
<path d="M0.0 660.2 L6.0 659.5 L22.0 657.4 L38.0 653.5 L54.0 660.3 L70.0 666.5 L86.0 681.6 L102.0 695.6 L118.0 708.6 L134.0 713.3 L150.0 714.4 L166.0 713.6 L182.0 709.2 L198.0 714.9 L214.0 721.1 L230.0 728.4 L246.0 733.1 L262.0 735.4 L278.0 729.4 L294.0 724.2 L310.0 722.6 L326.0 715.3 L342.0 704.9 L358.0 698.6 L374.0 682.6 L390.0 667.5 L406.0 651.3 L422.0 632.1 L438.0 611.3 L454.0 598.5 L470.0 599.0 L486.0 599.7 L502.0 606.5 L518.0 615.6 L534.0 618.9 L550.0 615.5 L566.0 614.0 L582.0 608.1 L598.0 618.8 L616.0 627.1 L632.0 640.4 L648.0 635.6 L664.0 638.1 L680.0 676.1 L696.0 727.3 L712.0 793.2 L728.0 848.1 L744.0 876.3 L760.0 897.5 L776.0 916.3 L792.0 933.8 L808.0 942.7 L824.0 952.1 L840.0 958.2 L856.0 961.5 L872.0 958.3 L888.0 949.3 L904.0 940.9 L920.0 940.2 L936.0 946.1 L952.0 947.8 L968.0 931.8 L984.0 914.6 L1000.0 913.9 L1016.0 913.9 L1032.0 907.2 L1048.0 898.3 L1064.0 897.8 L1080.0 897.9 L1096.0 898.0 L1112.0 898.2 L1128.0 897.6 L1144.0 902.0 L1160.0 910.1 L1176.0 913.4 L1192.0 918.6 L1208.0 926.7 L1224.0 937.9 L1240.0 948.7 L1256.0 949.4 L1272.0 950.9 L1288.0 951.9 L1304.0 950.6 L1320.0 950.4 L1336.0 952.9 L1352.0 955.4 L1368.0 963.5 L1384.0 972.0 L1400.0 988.7 L1416.0 994.1 L1432.0 997.5 L1448.0 991.3 L1464.0 994.9 L1480.0 1015.3 L1496.0 1041.4 L1512.0 1041.8 L1528.0 1042.4 L1544.0 1042.1 L1560.0 1041.2 L1576.0 1041.7 L1592.0 1041.7 L1608.0 1035.8 L1624.0 1034.9 L1640.0 1035.5 L1656.0 1035.6 L1672.0 1038.2 L1688.0 1055.7 L1704.0 1065.2 L1720.0 1064.1 L1736.0 1066.5 L1752.0 1061.3 L1768.0 1069.6 L1784.0 1066.0 L1800.0 1042.7 L1816.0 1002.8 L1832.0 989.5 L1848.0 975.2 L1864.0 964.0 L1880.0 965.1 L1896.0 973.9 L1912.0 965.2 L1928.0 951.8 L1944.0 931.5 L1960.0 902.5 L1976.0 862.9 L1992.0 827.5 L2008.0 811.2 L2024.0 793.0 L2040.0 773.4 L2056.0 754.5 L2072.0 738.1 L2088.0 731.3 L2104.0 716.1 L2120.0 700.6 L2136.0 677.4 L2152.0 641.6 L2168.0 615.8 L2184.0 562.2 L2200.0 558.2 L2216.0 556.9 L2232.0 562.6 L2248.0 566.3 L2264.0 563.2 L2280.0 559.2 L2296.0 551.7 L2312.0 552.4 L2328.0 545.1 L2344.0 538.0 L2360.0 535.0 L2376.0 530.6 L2392.0 533.0 L2408.0 535.9 L2424.0 533.5 L2440.0 533.6 L2456.0 530.9 L2472.0 519.8" fill="none" stroke="#a85a28" stroke-width="2.0" stroke-linejoin="round"/>
</g>
<g clip-path="url(#cd)">
<rect x="0.8" y="1642.8" width="10.4" height="64.4" fill="#00a889"/>
<rect x="16.8" y="1642.8" width="10.4" height="100.5" fill="#00a889"/>
<rect x="32.8" y="1642.8" width="10.4" height="110.4" fill="#00a889"/>
<rect x="48.8" y="1642.8" width="10.4" height="133.6" fill="#00a889"/>
<rect x="64.8" y="1642.8" width="10.4" height="135.1" fill="#00a889"/>
<rect x="80.8" y="1642.8" width="10.4" height="133.0" fill="#00a889"/>
<rect x="96.8" y="1642.8" width="10.4" height="131.2" fill="#00a889"/>
<rect x="112.8" y="1642.8" width="10.4" height="117.0" fill="#00a889"/>
<rect x="128.8" y="1642.8" width="10.4" height="86.9" fill="#00a889"/>
<rect x="144.8" y="1642.8" width="10.4" height="34.9" fill="#00a889"/>
<rect x="160.8" y="1640.1" width="10.4" height="2.7" fill="#eb3852"/>
<rect x="176.8" y="1607.9" width="10.4" height="34.9" fill="#eb3852"/>
<rect x="192.8" y="1551.0" width="10.4" height="91.8" fill="#eb3852"/>
<rect x="208.8" y="1505.6" width="10.4" height="137.2" fill="#eb3852"/>
<rect x="224.8" y="1482.2" width="10.4" height="160.6" fill="#eb3852"/>
<rect x="240.8" y="1492.7" width="10.4" height="150.1" fill="#eb3852"/>
<rect x="256.8" y="1492.1" width="10.4" height="150.7" fill="#eb3852"/>
<rect x="272.8" y="1529.1" width="10.4" height="113.7" fill="#eb3852"/>
<rect x="288.8" y="1554.7" width="10.4" height="88.1" fill="#eb3852"/>
<rect x="304.8" y="1582.9" width="10.4" height="59.9" fill="#eb3852"/>
<rect x="320.8" y="1580.8" width="10.4" height="62.0" fill="#eb3852"/>
<rect x="336.8" y="1600.7" width="10.4" height="42.1" fill="#eb3852"/>
<rect x="352.8" y="1642.8" width="10.4" height="13.8" fill="#00a889"/>
<rect x="368.8" y="1642.8" width="10.4" height="44.8" fill="#00a889"/>
<rect x="384.8" y="1642.8" width="10.4" height="58.7" fill="#00a889"/>
<rect x="400.8" y="1642.8" width="10.4" height="74.9" fill="#00a889"/>
<rect x="416.8" y="1642.8" width="10.4" height="92.1" fill="#00a889"/>
<rect x="432.8" y="1642.8" width="10.4" height="88.1" fill="#00a889"/>
<rect x="448.8" y="1642.8" width="10.4" height="86.9" fill="#00a889"/>
<rect x="464.8" y="1642.8" width="10.4" height="81.8" fill="#00a889"/>
<rect x="480.8" y="1642.8" width="10.4" height="72.8" fill="#00a889"/>
<rect x="496.8" y="1642.8" width="10.4" height="74.9" fill="#00a889"/>
<rect x="512.8" y="1642.8" width="10.4" height="72.8" fill="#00a889"/>
<rect x="528.8" y="1642.8" width="10.4" height="64.1" fill="#00a889"/>
<rect x="544.8" y="1642.8" width="10.4" height="41.8" fill="#00a889"/>
<rect x="560.8" y="1642.8" width="10.4" height="18.4" fill="#00a889"/>
<rect x="576.8" y="1642.8" width="10.4" height="17.7" fill="#00a889"/>
<rect x="592.8" y="1642.8" width="10.4" height="40.0" fill="#00a889"/>
<rect x="610.8" y="1642.8" width="10.4" height="55.1" fill="#00a889"/>
<rect x="626.8" y="1642.8" width="10.4" height="71.9" fill="#00a889"/>
<rect x="642.8" y="1642.8" width="10.4" height="69.5" fill="#00a889"/>
<rect x="658.8" y="1642.8" width="10.4" height="71.9" fill="#00a889"/>
<rect x="674.8" y="1642.8" width="10.4" height="109.8" fill="#00a889"/>
<rect x="690.8" y="1642.8" width="10.4" height="157.0" fill="#00a889"/>
<rect x="706.8" y="1642.8" width="10.4" height="214.8" fill="#00a889"/>
<rect x="722.8" y="1642.8" width="10.4" height="243.7" fill="#00a889"/>
<rect x="738.8" y="1642.8" width="10.4" height="214.8" fill="#00a889"/>
<rect x="754.8" y="1642.8" width="10.4" height="176.0" fill="#00a889"/>
<rect x="770.8" y="1642.8" width="10.4" height="139.0" fill="#00a889"/>
<rect x="786.8" y="1642.8" width="10.4" height="109.2" fill="#00a889"/>
<rect x="802.8" y="1642.8" width="10.4" height="63.8" fill="#00a889"/>
<rect x="818.8" y="1642.8" width="10.4" height="33.1" fill="#00a889"/>
<rect x="834.8" y="1642.8" width="10.4" height="2.4" fill="#00a889"/>
<rect x="850.8" y="1621.4" width="10.4" height="21.4" fill="#eb3852"/>
<rect x="866.8" y="1603.1" width="10.4" height="39.7" fill="#eb3852"/>
<rect x="882.8" y="1596.2" width="10.4" height="46.6" fill="#eb3852"/>
<rect x="898.8" y="1594.1" width="10.4" height="48.7" fill="#eb3852"/>
<rect x="914.8" y="1604.9" width="10.4" height="37.9" fill="#eb3852"/>
<rect x="930.8" y="1637.7" width="10.4" height="5.1" fill="#eb3852"/>
<rect x="946.8" y="1642.8" width="10.4" height="4.5" fill="#00a889"/>
<rect x="962.8" y="1626.3" width="10.4" height="16.5" fill="#eb3852"/>
<rect x="978.8" y="1627.2" width="10.4" height="15.6" fill="#eb3852"/>
<rect x="994.8" y="1627.2" width="10.4" height="15.6" fill="#eb3852"/>
<rect x="1010.8" y="1599.8" width="10.4" height="43.0" fill="#eb3852"/>
<rect x="1026.8" y="1578.7" width="10.4" height="64.1" fill="#eb3852"/>
<rect x="1042.8" y="1577.2" width="10.4" height="65.6" fill="#eb3852"/>
<rect x="1058.8" y="1559.2" width="10.4" height="83.6" fill="#eb3852"/>
<rect x="1074.8" y="1553.1" width="10.4" height="89.7" fill="#eb3852"/>
<rect x="1090.8" y="1551.0" width="10.4" height="91.8" fill="#eb3852"/>
<rect x="1106.8" y="1538.1" width="10.4" height="104.7" fill="#eb3852"/>
<rect x="1122.8" y="1541.4" width="10.4" height="101.4" fill="#eb3852"/>
<rect x="1138.8" y="1573.3" width="10.4" height="69.5" fill="#eb3852"/>
<rect x="1154.8" y="1607.3" width="10.4" height="35.5" fill="#eb3852"/>
<rect x="1170.8" y="1620.5" width="10.4" height="22.3" fill="#eb3852"/>
<rect x="1186.8" y="1636.2" width="10.4" height="6.6" fill="#eb3852"/>
<rect x="1202.8" y="1642.8" width="10.4" height="8.1" fill="#00a889"/>
<rect x="1218.8" y="1642.8" width="10.4" height="23.2" fill="#00a889"/>
<rect x="1234.8" y="1642.8" width="10.4" height="29.8" fill="#00a889"/>
<rect x="1250.8" y="1642.8" width="10.4" height="20.5" fill="#00a889"/>
<rect x="1266.8" y="1642.8" width="10.4" height="6.9" fill="#00a889"/>
<rect x="1282.8" y="1598.6" width="10.4" height="44.2" fill="#eb3852"/>
<rect x="1298.8" y="1584.1" width="10.4" height="58.7" fill="#eb3852"/>
<rect x="1314.8" y="1589.9" width="10.4" height="52.9" fill="#eb3852"/>
<rect x="1330.8" y="1597.7" width="10.4" height="45.1" fill="#eb3852"/>
<rect x="1346.8" y="1606.4" width="10.4" height="36.4" fill="#eb3852"/>
<rect x="1362.8" y="1628.4" width="10.4" height="14.4" fill="#eb3852"/>
<rect x="1378.8" y="1642.8" width="10.4" height="6.0" fill="#00a889"/>
<rect x="1394.8" y="1642.8" width="10.4" height="34.9" fill="#00a889"/>
<rect x="1410.8" y="1642.8" width="10.4" height="32.2" fill="#00a889"/>
<rect x="1426.8" y="1642.8" width="10.4" height="38.8" fill="#00a889"/>
<rect x="1442.8" y="1642.8" width="10.4" height="6.3" fill="#00a889"/>
<rect x="1458.8" y="1642.8" width="10.4" height="2.7" fill="#00a889"/>
<rect x="1474.8" y="1642.8" width="10.4" height="33.4" fill="#00a889"/>
<rect x="1490.8" y="1642.8" width="10.4" height="64.7" fill="#00a889"/>
<rect x="1506.8" y="1642.8" width="10.4" height="15.3" fill="#00a889"/>
<rect x="1522.8" y="1630.2" width="10.4" height="12.6" fill="#eb3852"/>
<rect x="1538.8" y="1585.0" width="10.4" height="57.8" fill="#eb3852"/>
<rect x="1554.8" y="1575.1" width="10.4" height="67.7" fill="#eb3852"/>
<rect x="1570.8" y="1575.4" width="10.4" height="67.4" fill="#eb3852"/>
<rect x="1586.8" y="1563.4" width="10.4" height="79.4" fill="#eb3852"/>
<rect x="1602.8" y="1544.1" width="10.4" height="98.7" fill="#eb3852"/>
<rect x="1618.8" y="1535.7" width="10.4" height="107.1" fill="#eb3852"/>
<rect x="1634.8" y="1539.3" width="10.4" height="103.5" fill="#eb3852"/>
<rect x="1650.8" y="1552.2" width="10.4" height="90.6" fill="#eb3852"/>
<rect x="1666.8" y="1547.7" width="10.4" height="95.1" fill="#eb3852"/>
<rect x="1682.8" y="1501.1" width="10.4" height="141.7" fill="#eb3852"/>
<rect x="1698.8" y="1476.7" width="10.4" height="166.1" fill="#eb3852"/>
<rect x="1714.8" y="1469.8" width="10.4" height="173.0" fill="#eb3852"/>
<rect x="1730.8" y="1468.3" width="10.4" height="174.5" fill="#eb3852"/>
<rect x="1746.8" y="1476.4" width="10.4" height="166.4" fill="#eb3852"/>
<rect x="1762.8" y="1463.5" width="10.4" height="179.3" fill="#eb3852"/>
<rect x="1778.8" y="1473.4" width="10.4" height="169.4" fill="#eb3852"/>
<rect x="1794.8" y="1491.5" width="10.4" height="151.3" fill="#eb3852"/>
<rect x="1810.8" y="1513.1" width="10.4" height="129.7" fill="#eb3852"/>
<rect x="1826.8" y="1547.1" width="10.4" height="95.7" fill="#eb3852"/>
<rect x="1842.8" y="1551.3" width="10.4" height="91.5" fill="#eb3852"/>
<rect x="1858.8" y="1587.4" width="10.4" height="55.4" fill="#eb3852"/>
<rect x="1874.8" y="1527.0" width="10.4" height="115.8" fill="#eb3852"/>
<rect x="1890.8" y="1452.7" width="10.4" height="190.1" fill="#eb3852"/>
<rect x="1906.8" y="1445.1" width="10.4" height="197.7" fill="#eb3852"/>
<rect x="1922.8" y="1467.7" width="10.4" height="175.1" fill="#eb3852"/>
<rect x="1938.8" y="1503.8" width="10.4" height="139.0" fill="#eb3852"/>
<rect x="1954.8" y="1547.4" width="10.4" height="95.4" fill="#eb3852"/>
<rect x="1970.8" y="1603.1" width="10.4" height="39.7" fill="#eb3852"/>
<rect x="1986.8" y="1628.7" width="10.4" height="14.1" fill="#eb3852"/>
<rect x="2002.8" y="1642.8" width="10.4" height="10.8" fill="#00a889"/>
<rect x="2018.8" y="1642.8" width="10.4" height="37.0" fill="#00a889"/>
<rect x="2034.8" y="1642.8" width="10.4" height="40.9" fill="#00a889"/>
<rect x="2050.8" y="1642.8" width="10.4" height="39.4" fill="#00a889"/>
<rect x="2066.8" y="1642.8" width="10.4" height="6.9" fill="#00a889"/>
<rect x="2082.8" y="1626.6" width="10.4" height="16.2" fill="#eb3852"/>
<rect x="2098.8" y="1625.7" width="10.4" height="17.1" fill="#eb3852"/>
<rect x="2114.8" y="1611.5" width="10.4" height="31.3" fill="#eb3852"/>
<rect x="2130.8" y="1625.1" width="10.4" height="17.7" fill="#eb3852"/>
<rect x="2146.8" y="1642.8" width="10.4" height="22.3" fill="#00a889"/>
<rect x="2162.8" y="1642.8" width="10.4" height="54.2" fill="#00a889"/>
<rect x="2178.8" y="1642.8" width="10.4" height="68.3" fill="#00a889"/>
<rect x="2194.8" y="1642.8" width="10.4" height="80.3" fill="#00a889"/>
<rect x="2210.8" y="1642.8" width="10.4" height="88.7" fill="#00a889"/>
<rect x="2226.8" y="1642.8" width="10.4" height="127.3" fill="#00a889"/>
<rect x="2242.8" y="1642.8" width="10.4" height="148.3" fill="#00a889"/>
<rect x="2258.8" y="1642.8" width="10.4" height="125.2" fill="#00a889"/>
<rect x="2274.8" y="1642.8" width="10.4" height="82.4" fill="#00a889"/>
<rect x="2290.8" y="1642.8" width="10.4" height="31.0" fill="#00a889"/>
<rect x="2306.8" y="1629.9" width="10.4" height="12.9" fill="#eb3852"/>
<rect x="2322.8" y="1614.5" width="10.4" height="28.3" fill="#eb3852"/>
<rect x="2338.8" y="1588.3" width="10.4" height="54.5" fill="#eb3852"/>
<rect x="2354.8" y="1573.9" width="10.4" height="68.9" fill="#eb3852"/>
<rect x="2370.8" y="1572.1" width="10.4" height="70.7" fill="#eb3852"/>
<rect x="2386.8" y="1579.6" width="10.4" height="63.2" fill="#eb3852"/>
<rect x="2402.8" y="1587.1" width="10.4" height="55.7" fill="#eb3852"/>
<rect x="2418.8" y="1615.1" width="10.4" height="27.7" fill="#eb3852"/>
<rect x="2434.8" y="1636.2" width="10.4" height="6.6" fill="#eb3852"/>
<rect x="2450.8" y="1642.8" width="10.4" height="12.6" fill="#00a889"/>
<rect x="2466.8" y="1642.8" width="10.4" height="34.9" fill="#00a889"/>
<path d="M0.0 1557.6 L6.0 1561.8 L22.0 1574.3 L38.0 1588.0 L54.0 1604.7 L70.0 1621.5 L86.0 1638.1 L102.0 1654.4 L118.0 1669.0 L134.0 1679.8 L150.0 1684.1 L166.0 1683.7 L182.0 1679.3 L198.0 1667.8 L214.0 1650.7 L230.0 1630.6 L246.0 1611.8 L262.0 1593.0 L278.0 1578.7 L294.0 1567.7 L310.0 1560.2 L326.0 1552.5 L342.0 1547.2 L358.0 1548.9 L374.0 1554.6 L390.0 1562.0 L406.0 1571.4 L422.0 1583.0 L438.0 1594.1 L454.0 1605.0 L470.0 1615.3 L486.0 1624.5 L502.0 1633.9 L518.0 1643.1 L534.0 1651.2 L550.0 1656.4 L566.0 1658.8 L582.0 1661.1 L598.0 1666.8 L616.0 1674.4 L632.0 1684.0 L648.0 1693.4 L664.0 1703.1 L680.0 1717.5 L696.0 1737.8 L712.0 1765.4 L728.0 1796.5 L744.0 1822.5 L760.0 1843.7 L776.0 1860.3 L792.0 1873.1 L808.0 1880.3 L824.0 1883.6 L840.0 1883.1 L856.0 1880.4 L872.0 1875.3 L888.0 1869.4 L904.0 1863.2 L920.0 1858.4 L936.0 1857.7 L952.0 1858.2 L968.0 1856.2 L984.0 1854.3 L1000.0 1852.5 L1016.0 1847.2 L1032.0 1839.2 L1048.0 1831.1 L1064.0 1820.6 L1080.0 1809.3 L1096.0 1797.7 L1112.0 1784.6 L1128.0 1771.8 L1144.0 1763.3 L1160.0 1759.1 L1176.0 1756.5 L1192.0 1755.9 L1208.0 1756.8 L1224.0 1759.6 L1240.0 1763.2 L1256.0 1765.6 L1272.0 1766.4 L1288.0 1761.0 L1304.0 1753.8 L1320.0 1747.3 L1336.0 1741.8 L1352.0 1737.4 L1368.0 1735.7 L1384.0 1736.5 L1400.0 1740.9 L1416.0 1745.0 L1432.0 1749.9 L1448.0 1750.7 L1464.0 1751.0 L1480.0 1755.2 L1496.0 1763.3 L1512.0 1765.2 L1528.0 1763.5 L1544.0 1756.2 L1560.0 1747.7 L1576.0 1739.2 L1592.0 1729.2 L1608.0 1716.8 L1624.0 1703.3 L1640.0 1690.3 L1656.0 1678.9 L1672.0 1666.9 L1688.0 1649.1 L1704.0 1628.2 L1720.0 1606.4 L1736.0 1584.4 L1752.0 1563.4 L1768.0 1540.8 L1784.0 1519.8 L1800.0 1501.0 L1816.0 1484.9 L1832.0 1473.1 L1848.0 1461.6 L1864.0 1454.6 L1880.0 1440.1 L1896.0 1416.2 L1912.0 1391.4 L1928.0 1369.4 L1944.0 1352.5 L1960.0 1341.0 L1976.0 1336.4 L1992.0 1335.1 L2008.0 1336.4 L2024.0 1341.0 L2040.0 1346.1 L2056.0 1351.1 L2072.0 1351.9 L2088.0 1349.9 L2104.0 1347.8 L2120.0 1343.9 L2136.0 1341.7 L2152.0 1344.5 L2168.0 1351.2 L2184.0 1359.7 L2200.0 1369.7 L2216.0 1380.8 L2232.0 1396.7 L2248.0 1415.3 L2264.0 1431.0 L2280.0 1441.3 L2296.0 1445.2 L2312.0 1443.5 L2328.0 1439.9 L2344.0 1433.0 L2360.0 1424.3 L2376.0 1415.4 L2392.0 1407.5 L2408.0 1400.5 L2424.0 1397.0 L2440.0 1396.1 L2456.0 1397.9 L2472.0 1402.5" fill="none" stroke="#00bcd8" stroke-width="2.0" stroke-linejoin="round"/>
<path d="M0.0 1583.7 L6.0 1594.0 L22.0 1624.5 L38.0 1643.2 L54.0 1671.5 L70.0 1689.0 L86.0 1704.6 L102.0 1720.0 L118.0 1727.5 L134.0 1723.3 L150.0 1701.5 L166.0 1682.3 L182.0 1661.9 L198.0 1622.0 L214.0 1582.1 L230.0 1550.3 L246.0 1536.8 L262.0 1517.6 L278.0 1521.9 L294.0 1523.6 L310.0 1530.3 L326.0 1521.5 L342.0 1526.1 L358.0 1555.8 L374.0 1577.0 L390.0 1591.3 L406.0 1608.9 L422.0 1629.0 L438.0 1638.1 L454.0 1648.5 L470.0 1656.2 L486.0 1660.9 L502.0 1671.4 L518.0 1679.5 L534.0 1683.2 L550.0 1677.4 L566.0 1668.0 L582.0 1670.0 L598.0 1686.8 L616.0 1701.9 L632.0 1720.0 L648.0 1728.2 L664.0 1739.0 L680.0 1772.4 L696.0 1816.3 L712.0 1872.8 L728.0 1918.3 L744.0 1926.6 L760.0 1926.6 L776.0 1926.6 L792.0 1926.6 L808.0 1912.2 L824.0 1900.2 L840.0 1884.3 L856.0 1869.7 L872.0 1855.5 L888.0 1846.1 L904.0 1838.9 L920.0 1839.5 L936.0 1855.2 L952.0 1860.5 L968.0 1847.9 L984.0 1846.5 L1000.0 1844.6 L1016.0 1825.6 L1032.0 1807.2 L1048.0 1798.3 L1064.0 1778.7 L1080.0 1764.4 L1096.0 1751.8 L1112.0 1732.2 L1128.0 1721.1 L1144.0 1728.6 L1160.0 1741.3 L1176.0 1745.4 L1192.0 1752.6 L1208.0 1760.9 L1224.0 1771.2 L1240.0 1778.1 L1256.0 1775.9 L1272.0 1769.9 L1288.0 1738.9 L1304.0 1724.5 L1320.0 1720.8 L1336.0 1719.2 L1352.0 1719.2 L1368.0 1728.5 L1384.0 1739.5 L1400.0 1758.4 L1416.0 1761.1 L1432.0 1769.3 L1448.0 1753.8 L1464.0 1752.4 L1480.0 1771.9 L1496.0 1795.6 L1512.0 1772.9 L1528.0 1757.2 L1544.0 1727.4 L1560.0 1713.9 L1576.0 1705.5 L1592.0 1689.5 L1608.0 1667.5 L1624.0 1649.8 L1640.0 1638.5 L1656.0 1633.6 L1672.0 1619.4 L1688.0 1578.3 L1704.0 1545.1 L1720.0 1519.9 L1736.0 1497.1 L1752.0 1480.2 L1768.0 1451.1 L1784.0 1435.1 L1800.0 1425.3 L1816.0 1420.1 L1832.0 1425.3 L1848.0 1415.9 L1864.0 1427.0 L1880.0 1382.2 L1896.0 1321.2 L1912.0 1292.6 L1928.0 1281.9 L1944.0 1283.0 L1960.0 1293.3 L1976.0 1316.6 L1992.0 1328.0 L2008.0 1341.9 L2024.0 1359.5 L2040.0 1366.6 L2056.0 1370.8 L2072.0 1355.4 L2088.0 1341.8 L2104.0 1339.2 L2120.0 1328.2 L2136.0 1332.8 L2152.0 1355.6 L2168.0 1378.3 L2184.0 1393.9 L2200.0 1409.9 L2216.0 1425.2 L2232.0 1460.4 L2248.0 1489.5 L2264.0 1493.5 L2280.0 1482.5 L2296.0 1460.7 L2312.0 1437.0 L2328.0 1425.8 L2344.0 1405.8 L2360.0 1389.9 L2376.0 1380.1 L2392.0 1375.9 L2408.0 1372.6 L2424.0 1383.1 L2440.0 1392.8 L2456.0 1404.2 L2472.0 1419.9" fill="none" stroke="#ff961e" stroke-width="2.0" stroke-linejoin="round"/>
</g>
<rect x="0" y="332.8" width="3207.0" height="8.2" fill="#ff00ff"/>
<line x1="1433.4" y1="883" x2="1528.8" y2="1056.7" stroke="#ff00ff" stroke-width="8" />
<polygon points="1530.2,1058.9 1507.9,1045.4 1530.8,1033" fill="#ff00ff"/>
<line x1="2490.4" y1="306" x2="2536.9" y2="119.6" stroke="#ff00ff" stroke-width="6"/>
<polygon points="2538.6,116.8 2521.1,134.6 2545.7,141.6" fill="#ff00ff"/>
<circle cx="2472.3" cy="280.5" r="19" fill="url(#glow)"/>
<line x1="2404" y1="220" x2="2425" y2="220" stroke="#222" stroke-width="2" stroke-dasharray="2 3.6"/>
<line x1="1512" y1="1121.8" x2="1533" y2="1121.8" stroke="#222" stroke-width="2" stroke-dasharray="2 3.6"/>
<rect x="3208.0" y="263.2" width="112.5" height="36.2" fill="#00a889"/>
<polygon points="3288,482 3319.5,467 3319.5,593 3288,578" fill="#ededf2"/>
<polyline points="3299,521.5 3309,530.5 3299,539.5" fill="none" stroke="#5f6579" stroke-width="2.4"/>
<circle cx="44" cy="30" r="16" fill="#f6b71a"/>
<path d="M41 24.4h6l1 4.8h-8z M35.5 30.8h6.1l1 4.7h-8.1z M46 30.8h6.1l1.1 4.7h-8.2z" fill="#fff"/>
<polygon points="322,27.5 334,27.5 328,34" fill="#5f6579"/>
<polygon points="1450.2,77.4 1462,77.4 1456.1,83.4" fill="#5f6579"/>
<path d="M31.7 123.0L50.9 142.2M50.9 123.0L31.7 142.2" stroke="#6a7084" stroke-width="2.5" stroke-linecap="round" fill="none"/>
<polygon points="77.7,120.6 87.7,126.4 87.7,138.0 77.7,143.8 67.7,138.0 67.7,126.4" fill="none" stroke="#6a7084" stroke-width="2.8" stroke-linejoin="round"/>
<circle cx="77.7" cy="132.2" r="3.4" fill="none" stroke="#6a7084" stroke-width="2.8"/>
<path d="M31.7 159.0L50.9 178.2M50.9 159.0L31.7 178.2" stroke="#6a7084" stroke-width="2.5" stroke-linecap="round" fill="none"/>
<polygon points="77.7,156.6 87.7,162.4 87.7,174.0 77.7,179.8 67.7,174.0 67.7,162.4" fill="none" stroke="#6a7084" stroke-width="2.8" stroke-linejoin="round"/>
<circle cx="77.7" cy="168.2" r="3.4" fill="none" stroke="#6a7084" stroke-width="2.8"/>
<path d="M31.7 1247.0L50.9 1266.2M50.9 1247.0L31.7 1266.2" stroke="#6a7084" stroke-width="2.5" stroke-linecap="round" fill="none"/>
<polygon points="79.5,1244.6 89.5,1250.4 89.5,1262.0 79.5,1267.8 69.5,1262.0 69.5,1250.4" fill="none" stroke="#6a7084" stroke-width="2.8" stroke-linejoin="round"/>
<circle cx="79.5" cy="1256.2" r="3.4" fill="none" stroke="#6a7084" stroke-width="2.8"/>
<text x="1179.3" y="224.10" font-size="71.40" fill="#ff2a14">1</text>
<text x="2420.6" y="414.10" font-size="72.80" fill="#ff2a14">1</text>
<text x="2661.3" y="414.10" font-size="72.80" fill="#ff2a14">1</text>
<rect x="3056" y="14" width="40" height="40" rx="8" fill="#e4e7f0"/>
<rect x="3104" y="14" width="40" height="40" rx="8" fill="#e4e7f0"/>
<rect x="3152" y="14" width="40" height="40" rx="8" fill="#e4e7f0"/>
<rect x="3216" y="14" width="40" height="40" rx="8" fill="#e4e7f0"/>
<rect x="3264" y="14" width="40" height="40" rx="8" fill="#e4e7f0"/>
<polyline points="3066.2,31.3 3070,31.3 3073.6,24.2 3079.8,36.6 3082.5,31.3 3086,31.3" fill="none" stroke="#6b7185" stroke-width="2.4" stroke-linejoin="miter"/>
<rect x="3066.2" y="41" width="19.8" height="3" fill="#6b7185"/>
<path d="M3114 44v-5l12.5-12.2 4.8 4.8-9.6 9.6h12.3v2.8z M3128.1 25.3l2.2-1.6 3.8 4-2 2.2z" fill="#6b7185"/>
<rect x="3161.9" y="25.6" width="8.7" height="10" fill="#6b7185"/><rect x="3165.2" y="22.2" width="2.3" height="16.8" fill="#6b7185"/><rect x="3173.1" y="31.2" width="8.8" height="9.4" fill="#6b7185"/><rect x="3176.2" y="27.2" width="2.3" height="16.8" fill="#6b7185"/>
<path d="M3245.6 24.4l-8 8 M3236.9 28.1v5h5 M3226.5 43.5l8.2-8.2 M3230 35.4h5.2v5" fill="none" stroke="#6b7185" stroke-width="2"/>
<path d="M3275.1 25.0L3293.1 43.0M3293.1 25.0L3275.1 43.0" stroke="#6b7185" stroke-width="2.0" stroke-linecap="round" fill="none"/>
<rect x="21.2" y="1973.6" width="129.5" height="36.6" rx="4" fill="none" stroke="#e0a236" stroke-width="2"/>
<rect x="173.4" y="1973.6" width="79.3" height="36.6" rx="4" fill="none" stroke="#e0a236" stroke-width="2"/>
<rect x="275.4" y="1973.6" width="79.1" height="36.6" rx="4" fill="none" stroke="#e0a236" stroke-width="2"/>
<rect x="375.9" y="1964.8" width="2" height="56" fill="#eff3f6"/>
<rect x="1086.1" y="1964.8" width="2" height="56" fill="#eff3f6"/>
<polyline points="1043.4,1995.6 1050.0,1988.8 1056.6,1995.6" fill="none" stroke="#5f6579" stroke-width="2.2"/>
<polyline points="1705.2,1995.6 1711.8,1988.8 1718.4,1995.6" fill="none" stroke="#5f6579" stroke-width="2.2"/>
<path d="M0 2020V2012Q0 2020 8 2020Z" fill="#e6e7ec"/><path d="M3320 2020V2013Q3320 2020 3313 2020Z" fill="#e4e5ee"/>
<text x="3218.42" y="134.26" font-size="24.80" fill="#e8384f" textLength="89.31" lengthAdjust="spacingAndGlyphs">1938.84</text>
<text x="3218.41" y="289.86" font-size="24.80" fill="#ffffff" textLength="89.67" lengthAdjust="spacingAndGlyphs">1932.38</text>
<text x="3218.41" y="402.06" font-size="24.80" fill="#00a889" textLength="89.63" lengthAdjust="spacingAndGlyphs">1928.35</text>
<text x="3221.42" y="684.36" font-size="24.80" fill="#00a889" textLength="84.40" lengthAdjust="spacingAndGlyphs">1917.86</text>
<text x="3218.41" y="965.76" font-size="24.80" fill="#00a889" textLength="89.68" lengthAdjust="spacingAndGlyphs">1907.36</text>
<text x="3218.41" y="1225.16" font-size="24.80" fill="#00a889" textLength="89.84" lengthAdjust="spacingAndGlyphs">1896.87</text>
<text x="3215.51" y="1311.16" font-size="24.80" fill="#5f6579" textLength="93.51" lengthAdjust="spacingAndGlyphs">3.86899</text>
<text x="3217.00" y="1616.36" font-size="24.80" fill="#5f6579" textLength="92.90" lengthAdjust="spacingAndGlyphs">0.39887</text>
<text x="3207.80" y="1920.36" font-size="24.80" fill="#5f6579" textLength="101.81" lengthAdjust="spacingAndGlyphs">−3.07125</text>
<text x="68.22" y="37.00" font-size="30.00" fill="#ff5c22" stroke="#ff5c22" stroke-width="0.45" textLength="119.00" lengthAdjust="spacingAndGlyphs">现货黄金</text>
<text x="195.77" y="37.20" font-size="30.50" fill="#5f6579" textLength="116.46" lengthAdjust="spacingAndGlyphs">XAUUSD</text>
<text x="352.12" y="36.40" font-size="29.60" fill="#00a889" stroke="#00a889" stroke-width="0.75" textLength="113.04" lengthAdjust="spacingAndGlyphs">1932.38</text>
<text x="484.55" y="36.40" font-size="29.60" fill="#00a889" stroke="#00a889" stroke-width="0.75" textLength="74.31" lengthAdjust="spacingAndGlyphs">−1.44</text>
<text x="578.65" y="36.40" font-size="29.60" fill="#00a889" stroke="#00a889" stroke-width="0.75" textLength="107.37" lengthAdjust="spacingAndGlyphs">−0.07%</text>
<text x="700.09" y="35.30" font-size="24.00" fill="#5f6579" textLength="47.40" lengthAdjust="spacingAndGlyphs">最高</text>
<text x="752.87" y="36.40" font-size="24.40" fill="#e8384f" textLength="86.94" lengthAdjust="spacingAndGlyphs">1934.64</text>
<text x="847.64" y="35.30" font-size="24.00" fill="#5f6579" textLength="48.52" lengthAdjust="spacingAndGlyphs">开盘</text>
<text x="900.76" y="36.40" font-size="24.40" fill="#e8384f" textLength="87.28" lengthAdjust="spacingAndGlyphs">1933.90</text>
<text x="996.50" y="35.30" font-size="24.00" fill="#5f6579" textLength="46.88" lengthAdjust="spacingAndGlyphs">最低</text>
<text x="1049.38" y="36.40" font-size="24.40" fill="#00a889" textLength="86.52" lengthAdjust="spacingAndGlyphs">1931.84</text>
<text x="1143.07" y="35.30" font-size="24.00" fill="#5f6579" textLength="48.20" lengthAdjust="spacingAndGlyphs">昨收</text>
<text x="1197.17" y="36.40" font-size="24.40" fill="#5f6579" textLength="87.05" lengthAdjust="spacingAndGlyphs">1933.82</text>
<text x="28.06" y="85.20" font-size="26.00" fill="#5f6579" textLength="51.92" lengthAdjust="spacingAndGlyphs">分时</text>
<text x="95.40" y="86.00" font-size="26.60" fill="#5f6579" textLength="14.62" lengthAdjust="spacingAndGlyphs">1</text>
<text x="110.01" y="85.20" font-size="26.00" fill="#5f6579">分</text>
<text x="152.64" y="86.00" font-size="26.60" fill="#5f6579" textLength="15.01" lengthAdjust="spacingAndGlyphs">2</text>
<text x="167.65" y="85.20" font-size="26.00" fill="#5f6579">分</text>
<text x="211.70" y="86.00" font-size="26.60" fill="#5f6579" textLength="14.54" lengthAdjust="spacingAndGlyphs">3</text>
<text x="226.24" y="85.20" font-size="26.00" fill="#5f6579">分</text>
<text x="268.89" y="86.00" font-size="26.60" fill="#5f6579" textLength="14.69" lengthAdjust="spacingAndGlyphs">4</text>
<text x="283.59" y="85.20" font-size="26.00" fill="#5f6579">分</text>
<text x="326.93" y="86.00" font-size="26.60" fill="#5f6579" textLength="14.90" lengthAdjust="spacingAndGlyphs">5</text>
<text x="341.83" y="85.20" font-size="26.00" fill="#5f6579">分</text>
<text x="384.98" y="86.00" font-size="26.60" fill="#5f6579" textLength="29.45" lengthAdjust="spacingAndGlyphs">10</text>
<text x="414.43" y="85.20" font-size="26.00" fill="#5f6579">分</text>
<text x="456.57" y="86.00" font-size="26.60" fill="#5f6579" textLength="29.62" lengthAdjust="spacingAndGlyphs">15</text>
<text x="486.19" y="85.20" font-size="26.00" fill="#5f6579">分</text>
<text x="529.08" y="86.00" font-size="26.60" fill="#5f6579" textLength="29.23" lengthAdjust="spacingAndGlyphs">20</text>
<text x="558.31" y="85.20" font-size="26.00" fill="#5f6579">分</text>
<text x="601.21" y="86.00" font-size="26.60" fill="#5f6579" textLength="29.06" lengthAdjust="spacingAndGlyphs">30</text>
<text x="630.26" y="85.20" font-size="26.00" fill="#5f6579">分</text>
<text x="673.52" y="86.00" font-size="26.60" fill="#ff5a2c" textLength="14.49" lengthAdjust="spacingAndGlyphs">1</text>
<text x="688.00" y="85.20" font-size="26.00" fill="#ff5a2c">时</text>
<text x="731.16" y="86.00" font-size="26.60" fill="#5f6579" textLength="14.81" lengthAdjust="spacingAndGlyphs">2</text>
<text x="745.97" y="85.20" font-size="26.00" fill="#5f6579">时</text>
<text x="789.39" y="86.00" font-size="26.60" fill="#5f6579" textLength="14.68" lengthAdjust="spacingAndGlyphs">3</text>
<text x="804.08" y="85.20" font-size="26.00" fill="#5f6579">时</text>
<text x="847.59" y="86.00" font-size="26.60" fill="#5f6579" textLength="14.68" lengthAdjust="spacingAndGlyphs">4</text>
<text x="862.28" y="85.20" font-size="26.00" fill="#5f6579">时</text>
<text x="905.45" y="86.00" font-size="26.60" fill="#5f6579" textLength="14.81" lengthAdjust="spacingAndGlyphs">6</text>
<text x="920.26" y="85.20" font-size="26.00" fill="#5f6579">时</text>
<text x="963.55" y="86.00" font-size="26.60" fill="#5f6579" textLength="14.66" lengthAdjust="spacingAndGlyphs">8</text>
<text x="978.21" y="85.20" font-size="26.00" fill="#5f6579">时</text>
<text x="1021.70" y="86.00" font-size="26.60" fill="#5f6579" textLength="29.15" lengthAdjust="spacingAndGlyphs">12</text>
<text x="1050.86" y="85.20" font-size="26.00" fill="#5f6579">时</text>
<text x="1092.81" y="85.20" font-size="26.00" fill="#5f6579">日</text>
<text x="1118.90" y="86.00" font-size="26.60" fill="#5f6579" textLength="17.80" lengthAdjust="spacingAndGlyphs">K</text>
<text x="1154.27" y="85.20" font-size="26.00" fill="#5f6579">周</text>
<text x="1179.54" y="86.00" font-size="26.60" fill="#5f6579" textLength="17.25" lengthAdjust="spacingAndGlyphs">K</text>
<text x="1214.77" y="85.20" font-size="26.00" fill="#5f6579">月</text>
<text x="1239.87" y="86.00" font-size="26.60" fill="#5f6579" textLength="17.12" lengthAdjust="spacingAndGlyphs">K</text>
<text x="1273.95" y="85.20" font-size="26.00" fill="#5f6579">季</text>
<text x="1299.00" y="86.00" font-size="26.60" fill="#5f6579" textLength="17.09" lengthAdjust="spacingAndGlyphs">K</text>
<text x="1333.58" y="85.20" font-size="26.00" fill="#5f6579">年</text>
<text x="1358.97" y="86.00" font-size="26.60" fill="#5f6579" textLength="17.32" lengthAdjust="spacingAndGlyphs">K</text>
<text x="1393.76" y="85.20" font-size="26.00" fill="#5f6579" textLength="52.60" lengthAdjust="spacingAndGlyphs">更多</text>
<text x="106.06" y="139.60" font-size="24.60" fill="#ff9a1f" textLength="140.47" lengthAdjust="spacingAndGlyphs">MA5:1933.06</text>
<text x="257.05" y="139.60" font-size="24.60" fill="#00bcd4" textLength="154.39" lengthAdjust="spacingAndGlyphs">MA10:1933.16</text>
<text x="421.96" y="139.60" font-size="24.60" fill="#a474e8" textLength="153.69" lengthAdjust="spacingAndGlyphs">MA20:1930.31</text>
<text x="106.42" y="175.60" font-size="24.60" fill="#15161c" textLength="58.75" lengthAdjust="spacingAndGlyphs">BOLL</text>
<text x="176.06" y="175.60" font-size="24.60" fill="#e868c8" textLength="126.30" lengthAdjust="spacingAndGlyphs">UP:1937.13</text>
<text x="312.35" y="175.60" font-size="24.60" fill="#5b6ef5" textLength="136.11" lengthAdjust="spacingAndGlyphs">MID:1930.31</text>
<text x="459.89" y="175.60" font-size="24.60" fill="#a85520" textLength="143.72" lengthAdjust="spacingAndGlyphs">LOW:1923.48</text>
<text x="105.17" y="1263.60" font-size="24.60" fill="#15161c" textLength="163.18" lengthAdjust="spacingAndGlyphs">MACD(12,26,9)</text>
<text x="277.95" y="1263.60" font-size="24.60" fill="#ff9a1f" textLength="130.74" lengthAdjust="spacingAndGlyphs">DIF:2.40027</text>
<text x="419.19" y="1263.60" font-size="24.60" fill="#00bcd4" textLength="138.75" lengthAdjust="spacingAndGlyphs">DEA:2.58831</text>
<text x="568.59" y="1263.60" font-size="24.60" fill="#a474e8" textLength="166.91" lengthAdjust="spacingAndGlyphs">MACD:-0.37609</text>
<text x="2310.11" y="234.80" font-size="25.00" fill="#6a7080" textLength="89.61" lengthAdjust="spacingAndGlyphs">1934.64</text>
<text x="1534.74" y="1136.00" font-size="25.00" fill="#6a7080" textLength="83.42" lengthAdjust="spacingAndGlyphs">1901.07</text>
<text x="1030.16" y="225.40" font-size="71.50" fill="#ff2a14" textLength="142.10" lengthAdjust="spacingAndGlyphs">黄金</text>
<text x="1226.15" y="225.50" font-size="71.60" fill="#ff2a14" textLength="143.90" lengthAdjust="spacingAndGlyphs">小时</text>
<text x="2458.95" y="414.10" font-size="72.80" fill="#ff2a14" textLength="44.55" lengthAdjust="spacingAndGlyphs">9</text>
<text x="2504.61" y="414.10" font-size="72.80" fill="#ff2a14" textLength="40.70" lengthAdjust="spacingAndGlyphs">3</text>
<text x="2547.27" y="414.10" font-size="72.80" fill="#ff2a14" textLength="43.16" lengthAdjust="spacingAndGlyphs">0</text>
<text x="2591.57" y="411.90" font-size="72.80" fill="#ff2a14" textLength="30.96" lengthAdjust="spacingAndGlyphs">-</text>
<text x="2623.46" y="414.10" font-size="72.80" fill="#ff2a14" textLength="41.41" lengthAdjust="spacingAndGlyphs">3</text>
<text x="38.95" y="1956.20" font-size="24.80" fill="#959bb2" textLength="62.20" lengthAdjust="spacingAndGlyphs">09-09</text>
<text x="422.95" y="1956.20" font-size="24.80" fill="#959bb2" textLength="62.28" lengthAdjust="spacingAndGlyphs">09-12</text>
<text x="808.95" y="1956.20" font-size="24.80" fill="#959bb2" textLength="62.12" lengthAdjust="spacingAndGlyphs">09-13</text>
<text x="1192.96" y="1956.20" font-size="24.80" fill="#959bb2" textLength="61.75" lengthAdjust="spacingAndGlyphs">09-14</text>
<text x="1576.95" y="1956.20" font-size="24.80" fill="#959bb2" textLength="62.07" lengthAdjust="spacingAndGlyphs">09-15</text>
<text x="1960.95" y="1956.20" font-size="24.80" fill="#959bb2" textLength="62.12" lengthAdjust="spacingAndGlyphs">09-16</text>
<text x="2344.95" y="1956.20" font-size="24.80" fill="#959bb2" textLength="62.20" lengthAdjust="spacingAndGlyphs">09-19</text>
<text x="37.17" y="2001.40" font-size="24.00" fill="#e0a236" textLength="97.48" lengthAdjust="spacingAndGlyphs">多空挂单</text>
<text x="190.31" y="2002.00" font-size="25.20" fill="#e0a236" textLength="44.21" lengthAdjust="spacingAndGlyphs">VPC</text>
<text x="291.56" y="2002.00" font-size="25.20" fill="#e0a236" textLength="44.98" lengthAdjust="spacingAndGlyphs">PPS</text>
<text x="397.39" y="2002.00" font-size="25.20" fill="#5f6579" textLength="34.85" lengthAdjust="spacingAndGlyphs">MA</text>
<text x="453.87" y="2002.00" font-size="25.20" fill="#5f6579" textLength="60.21" lengthAdjust="spacingAndGlyphs">BOLL</text>
<text x="533.33" y="2002.00" font-size="25.20" fill="#5f6579" textLength="53.07" lengthAdjust="spacingAndGlyphs">MMV</text>
<text x="607.70" y="2002.00" font-size="25.20" fill="#5f6579" textLength="45.32" lengthAdjust="spacingAndGlyphs">SAR</text>
<text x="673.34" y="2002.00" font-size="25.20" fill="#5f6579" textLength="45.44" lengthAdjust="spacingAndGlyphs">PBX</text>
<text x="739.39" y="2002.00" font-size="25.20" fill="#5f6579" textLength="39.58" lengthAdjust="spacingAndGlyphs">BBI</text>
<text x="799.17" y="2002.00" font-size="25.20" fill="#5f6579" textLength="78.18" lengthAdjust="spacingAndGlyphs">EXPMA</text>
<text x="897.87" y="2002.00" font-size="25.20" fill="#5f6579" textLength="68.07" lengthAdjust="spacingAndGlyphs">SMMA</text>
<text x="986.17" y="2001.40" font-size="24.00" fill="#5f6579" textLength="47.98" lengthAdjust="spacingAndGlyphs">更多</text>
<text x="1108.14" y="2001.40" font-size="24.00" fill="#5f6579" textLength="71.85" lengthAdjust="spacingAndGlyphs">成交量</text>
<text x="1199.76" y="2002.00" font-size="25.20" fill="#5f6579" textLength="66.01" lengthAdjust="spacingAndGlyphs">MACD</text>
<text x="1285.45" y="2002.00" font-size="25.20" fill="#5f6579" textLength="44.91" lengthAdjust="spacingAndGlyphs">KDJ</text>
<text x="1349.58" y="2002.00" font-size="25.20" fill="#5f6579" textLength="37.84" lengthAdjust="spacingAndGlyphs">CCI</text>
<text x="1407.67" y="2002.00" font-size="25.20" fill="#5f6579" textLength="37.19" lengthAdjust="spacingAndGlyphs">RSI</text>
<text x="1466.04" y="2002.00" font-size="25.20" fill="#5f6579" textLength="29.74" lengthAdjust="spacingAndGlyphs">RS</text>
<text x="1515.84" y="2002.00" font-size="25.20" fill="#5f6579" textLength="47.26" lengthAdjust="spacingAndGlyphs">OBV</text>
<text x="1584.26" y="2002.00" font-size="25.20" fill="#5f6579" textLength="43.54" lengthAdjust="spacingAndGlyphs">ABV</text>
<text x="1647.86" y="2001.40" font-size="24.00" fill="#5f6579" textLength="48.50" lengthAdjust="spacingAndGlyphs">更多</text>
</svg>
</body></html>
